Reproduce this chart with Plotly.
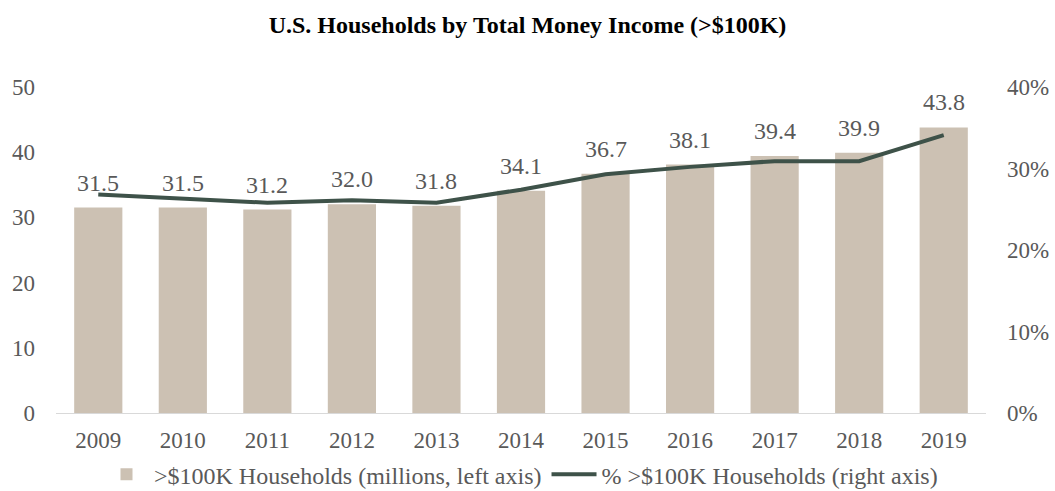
import plotly.graph_objects as go

years = ["2009", "2010", "2011", "2012", "2013", "2014", "2015", "2016", "2017", "2018", "2019"]
households_millions = [31.5, 31.5, 31.2, 32.0, 31.8, 34.1, 36.7, 38.1, 39.4, 39.9, 43.8]
pct_households = [26.8, 26.3, 25.8, 26.1, 25.8, 27.4, 29.3, 30.2, 30.9, 30.9, 34.1]

FONT = "Liberation Serif"
GRAY = "#595959"
BAR_COLOR = "#CCC1B3"
LINE_COLOR = "#3E5249"

fig = go.Figure()
fig.add_trace(go.Bar(
    x=years, y=households_millions,
    name=">$100K Households (millions, left axis)",
    marker=dict(color=BAR_COLOR, line=dict(width=0)),
    width=0.57,
    yaxis="y",
))
fig.add_trace(go.Scatter(
    x=years, y=pct_households,
    name="% >$100K Households (right axis)",
    mode="lines",
    line=dict(color=LINE_COLOR, width=4),
    yaxis="y2",
))

for i, v in enumerate(households_millions):
    fig.add_annotation(
        x=i, y=v, xref="x", yref="y",
        text=f"{v:.1f}", showarrow=False,
        yanchor="bottom", yshift=10,
        font=dict(family=FONT, size=24, color=GRAY),
    )

fig.update_layout(
    width=1055, height=491,
    paper_bgcolor="white", plot_bgcolor="white",
    margin=dict(l=56, r=69, t=87, b=78, autoexpand=False),
    title=dict(
        text="<b>U.S. Households by Total Money Income (>$100K)</b>",
        x=0.5, xanchor="center", y=0.949, yanchor="middle",
        font=dict(family=FONT, size=24, color="black"),
    ),
    font=dict(family=FONT, size=23, color=GRAY),
    showlegend=True,
    legend=dict(
        orientation="h", x=0.5, xanchor="center",
        yref="container", y=0.079, yanchor="top",
        font=dict(family=FONT, size=24, color=GRAY),
        itemwidth=45, tracegroupgap=0,
        bgcolor="rgba(0,0,0,0)",
    ),
    xaxis=dict(
        type="category", range=[-0.5, 10.5], automargin=False,
        showgrid=False, showline=True, linecolor="#D9D9D9", linewidth=1,
        ticks="", tickfont=dict(family=FONT, size=23, color=GRAY),
        ticklabelstandoff=6,
    ),
    yaxis=dict(
        range=[0, 50], dtick=10, showgrid=False, zeroline=False, automargin=False,
        showline=False, ticks="",
        tickfont=dict(family=FONT, size=23, color=GRAY),
        ticklabelstandoff=20,
    ),
    yaxis2=dict(
        range=[0, 40], dtick=10, overlaying="y", side="right", automargin=False,
        showgrid=False, zeroline=False, showline=False, ticks="",
        ticksuffix="%",
        tickfont=dict(family=FONT, size=23, color=GRAY),
        ticklabelstandoff=20,
    ),
)

fig.write_html(
    "out.html",
    config={"displayModeBar": False},
    post_script="document.body.style.margin='0';document.body.style.padding='0';",
)
